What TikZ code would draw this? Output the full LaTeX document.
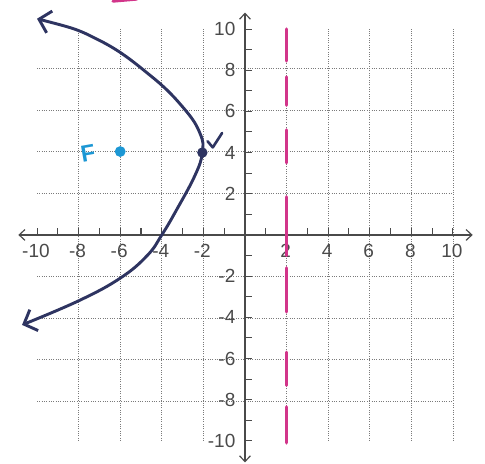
\documentclass[tikz,border=0pt]{standalone}
\usepackage{fontspec}
\setmainfont{Liberation Sans}
\usepackage{tikz}
\usetikzlibrary{arrows.meta,calc,positioning}
\usepackage{xcolor}
\definecolor{ink}{HTML}{2E3461}
\definecolor{pinkline}{HTML}{D2358A}
\definecolor{focusblue}{HTML}{1C97D4}
\definecolor{gridgray}{HTML}{7A7A7A}
\definecolor{numgray}{HTML}{4A4A4A}
\tikzset{gridline/.style={gridgray,line width=.55pt,dash pattern=on .6pt off 1pt}, axisline/.style={numgray,line width=.8pt,{Straight Barb[length=1.4mm,width=2.6mm]}-{Straight Barb[length=1.4mm,width=2.6mm]}}, ticknum/.style={font=\fontsize{13}{15}\selectfont,text=numgray,inner sep=1pt}, curveline/.style={ink,line width=2pt,line cap=round,line join=round}, dirline/.style={pinkline,line width=2.3pt,line cap=round}, pointdot/.style={circle,inner sep=0pt,minimum size=2.5mm}}

\begin{document}
\begin{tikzpicture}[x=0.5cm,y=0.495cm,>=Latex]
\useasboundingbox (-11.78,-11.12) rectangle (11.54,11.41);
\draw[gridline] (-10,-10) grid (10,10);
\draw[axisline] (-10.9,0) -- (10.95,0);
\draw[axisline] (0,-11.05) -- (0,10.8);
\foreach \k in {-10,...,10}{
  \draw[numgray,line width=.7pt] (\k,0) -- (\k,0.32);
  \draw[numgray,line width=.7pt] (0,\k) -- (0.32,\k);
}
\foreach \k in {-10,-8,-6,-4,-2,2,4,6,8,10}{
  \node[ticknum] (x\k) at (\k-0.05,-0.78) {\k};
  \node[ticknum,anchor=east] (y\k) at (-0.38,\k) {\k};
}
\foreach \a/\b in {10/8.45,7.67/6.3,5.1/3.5,1.85/-1.0,-1.6/-3.74,-5.7/-7.3,-8.35/-10.1}
  \draw[dirline] (2,\a) -- (2,\b);
\draw[pinkline,line width=2pt,line cap=round] (-6.35,11.35) -- (-5.2,11.45);
\draw[curveline,{Straight Barb[length=2.6mm,width=5.4mm]}-{Straight Barb[length=2.6mm,width=5.4mm]}] plot[smooth,tension=0.7] coordinates {(-10,10.5) (-7,9.45) (-4.5,7.7) (-2.9,6.1) (-2.15,4.9) (-2.05,4.0) (-2.4,2.9) (-3.3,1.2) (-4.0,0) (-4.7,-1.0) (-6.0,-2.1) (-8,-3.2) (-10.72,-4.37)};
\node[pointdot,fill=ink] (V) at (-2.05,4) {};
\draw[curveline,line width=1.8pt] (-1.8,4.55) -- (-1.55,4.25) -- (-1.1,4.95);
\node[pointdot,fill=focusblue,minimum size=2.6mm] (F) at (-6,4.05) {};
\node[text=focusblue,font=\fontsize{16}{18}\selectfont\bfseries,rotate=10] (Flabel) at (-7.55,3.95) {F};
\end{tikzpicture}
\end{document}
